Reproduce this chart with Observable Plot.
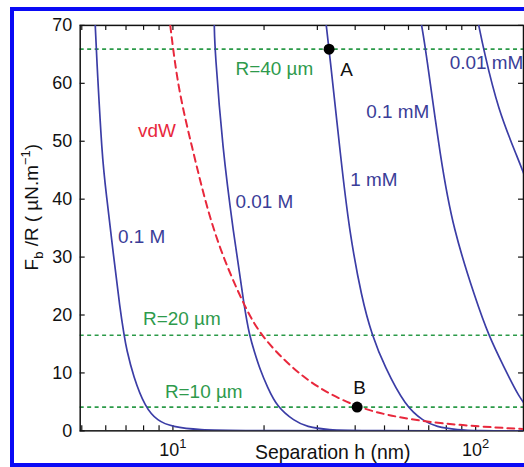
<!DOCTYPE html>
<html>
<head>
<meta charset="utf-8">
<script src="https://cdn.jsdelivr.net/npm/d3@7"></script>
<script src="https://cdn.jsdelivr.net/npm/@observablehq/plot@0.6"></script>
<style>
  html, body { margin: 0; padding: 0; background: #fff; overflow: hidden; width: 524px; height: 467px; }
  #wrap { position: relative; width: 524px; height: 467px; overflow: hidden; }
  #border { position: absolute; left: 10px; top: 7px; width: 600px; height: 460px; box-sizing: border-box; border: 4px solid #0a0af5; pointer-events: none; }
  #chart { position: absolute; left: 0; top: 0; }
</style>
</head>
<body>
<div id="wrap"><div id="chart"></div><div id="border"></div></div>
<script>
// ---- data ----
const curveNames = ["0.1 M", "0.01 M", "1 mM", "0.1 mM", "0.01 mM"];
const h_01M   = [5.54, 5.58, 5.84, 6.02, 6.37, 6.69, 6.90, 7.02, 7.4, 8.09, 8.9, 9.92, 12.3, 16, 144];
const F_01M   = [70, 65.9, 46.8, 41.1, 30.1, 21.0, 16.5, 14.2, 9.4, 4.1, 1.7, 0.7, 0.15, 0.02, 0];
const h_001M  = [13.7, 13.75, 14.6, 15.8, 17.25, 17.9, 18.6, 19.4, 20.5, 22.1, 25.2, 27.6, 32.8, 40, 144];
const F_001M  = [70, 65.9, 48.5, 34.7, 21.0, 16.5, 13.6, 10.6, 7.6, 4.1, 1.7, 0.7, 0.15, 0.02, 0];
const h_1mM   = [32.1, 32.8, 35.9, 38.2, 42.1, 45.5, 49.9, 58.8, 67.3, 73.9, 87.7, 100, 144];
const F_1mM   = [70, 65.9, 46.8, 34.7, 22.7, 16.5, 11.2, 4.1, 1.7, 0.7, 0.15, 0.03, 0];
const h_01mM  = [66.3, 68.4, 76.6, 84.4, 100, 110.3, 123.5, 140, 150];
const F_01mM  = [70, 65.9, 46.8, 34.7, 22.7, 16.5, 11.2, 5.5, 3.8];
const h_001mM = [102.4, 106.2, 118.6, 138.5, 149];
const F_001mM = [70, 65.9, 55.4, 46.8, 42.5];
const h_vdW   = [9.8, 10.4, 11.63, 12.74, 14.28, 16.98, 19.3, 24.27, 30.46, 40.6, 51.7, 75.5, 138.5, 144];
const F_vdW   = [70, 59, 48.5, 39.9, 31.3, 22.2, 16.7, 11.2, 7.2, 4.1, 2.6, 1.2, 0.34, 0.32];
const R_levels = [65.9, 16.5, 4.1];           // R = 40, 20, 10 µm
const pointNames = ["A", "B"];
const point_h = [32.8, 40.6];
const point_F = [65.9, 4.1];
const xTickMajor = [10, 100];
const xTickLabels = ["10^1", "10^2"];
const xTickMinor = [5, 6, 7, 8, 9, 10, 20, 30, 40, 50, 60, 70, 80, 90, 100];
const yTicks = [0, 10, 20, 30, 40, 50, 60, 70];
// annotation labels (text, h, F, colour group)
const labelText  = ["R=40 µm", "A", "R=20 µm", "R=10 µm", "B", "vdW", "0.1 M", "0.01 M", "1 mM", "0.1 mM", "0.01 mM"];
const labelH     = [16.1, 35.7, 7.97, 9.41, 39.4, 7.67, 6.59, 16.1, 38.5, 43.5, 82.1];
const labelF     = [62.4, 62.3, 19.3, 6.8, 7.4, 51.8, 33.5, 39.6, 43.3, 55.0, 63.6];
const labelGroup = ["R", "P", "R", "R", "P", "vdW", "c", "c", "c", "c", "c"];

// ---- styles ----
const blue = "#3b3da6", blueText = "#3a3d98", red = "#e8283c", green = "#2b9a48", greenText = "#2e9a4c";
const colorOf = {R: greenText, P: "#111", vdW: red, c: blueText};

const toRows = (hs, Fs) => hs.map((h, i) => ({h, F: Fs[i]}));
const curves = [
  toRows(h_01M, F_01M), toRows(h_001M, F_001M), toRows(h_1mM, F_1mM),
  toRows(h_01mM, F_01mM), toRows(h_001mM, F_001mM)
];
const vdW = toRows(h_vdW, F_vdW);
const points = pointNames.map((n, i) => ({n, h: point_h[i], F: point_F[i]}));
const labels = labelText.map((t, i) => ({t, h: labelH[i], F: labelF[i], c: colorOf[labelGroup[i]]}));

const font = "'Liberation Sans', Arial, Helvetica, sans-serif";
const W = 526, H = 467, mL = 80, mR = 1, mT = 25, mB = 35, tick = 5;
const frameW = W - mL - mR, frameH = H - mT - mB;

const plot = Plot.plot({
  width: W, height: H,
  marginLeft: mL, marginRight: mR, marginTop: mT, marginBottom: mB,
  x: {type: "log", domain: [4.94, 143.9]},
  y: {domain: [0, 70]},
  style: {fontFamily: font, background: "transparent", color: "#111"},
  marks: [
    Plot.ruleY(R_levels, {stroke: green, strokeWidth: 1.6, strokeDasharray: "4,3.5"}),
    // inward ticks (MATLAB style)
    Plot.tickX(xTickMinor, {x: d => d, stroke: "#111", strokeWidth: 1.2, insetTop: frameH - tick}),
    Plot.tickX(xTickMinor, {x: d => d, stroke: "#111", strokeWidth: 1.2, insetBottom: frameH - tick}),
    Plot.tickY(yTicks, {y: d => d, stroke: "#111", strokeWidth: 1.2, insetRight: frameW - tick}),
    Plot.tickY(yTicks, {y: d => d, stroke: "#111", strokeWidth: 1.2, insetLeft: frameW - tick}),
    Plot.frame({stroke: "#111", strokeWidth: 1.5}),
    ...curves.map(c => Plot.line(c, {x: "h", y: "F", stroke: blue, strokeWidth: 1.7, curve: "basis", clip: true})),
    Plot.line(vdW, {x: "h", y: "F", stroke: red, strokeWidth: 2, strokeDasharray: "7,5", curve: "basis", clip: true}),
    Plot.dot(points, {x: "h", y: "F", r: 5.5, fill: "#000"}),
    Plot.text(labels, {x: "h", y: "F", text: "t", fill: "c", fontSize: 19, textAnchor: "start"}),
    Plot.axisY({ticks: yTicks, tickSize: 0, tickPadding: 8, fontSize: 18, label: null}),
    Plot.axisX({ticks: xTickMajor, tickFormat: d => xTickLabels[xTickMajor.indexOf(d)], tickSize: 0, tickPadding: 12, fontSize: 18, label: null})
  ]
});
document.getElementById("chart").appendChild(plot);

const svg = d3.select(plot);
// superscript exponents on the x tick labels
svg.selectAll('g[aria-label="x-axis tick label"] text').each(function() {
  const t = d3.select(this);
  const [base, exp] = t.text().split("^");
  t.text(base);
  t.append("tspan").attr("font-size", 13).attr("dy", "-0.55em").text(exp);
});
// axis titles
svg.append("text")
  .attr("x", 334).attr("y", 461)
  .attr("text-anchor", "middle")
  .attr("font-family", font).attr("font-size", 19.5).attr("fill", "#111")
  .text("Separation h (nm)");
const yl = svg.append("text")
  .attr("transform", "translate(38,208) rotate(-90)")
  .attr("text-anchor", "middle")
  .attr("font-family", font).attr("font-size", 19).attr("fill", "#111");
yl.append("tspan").text("F");
yl.append("tspan").attr("font-size", 13).attr("dy", 5).text("b");
yl.append("tspan").attr("dy", -5).text(" /R ( µN.m");
yl.append("tspan").attr("font-size", 13).attr("dy", -8).text("−1");
yl.append("tspan").attr("dy", 8).text(")");
</script>
</body>
</html>
